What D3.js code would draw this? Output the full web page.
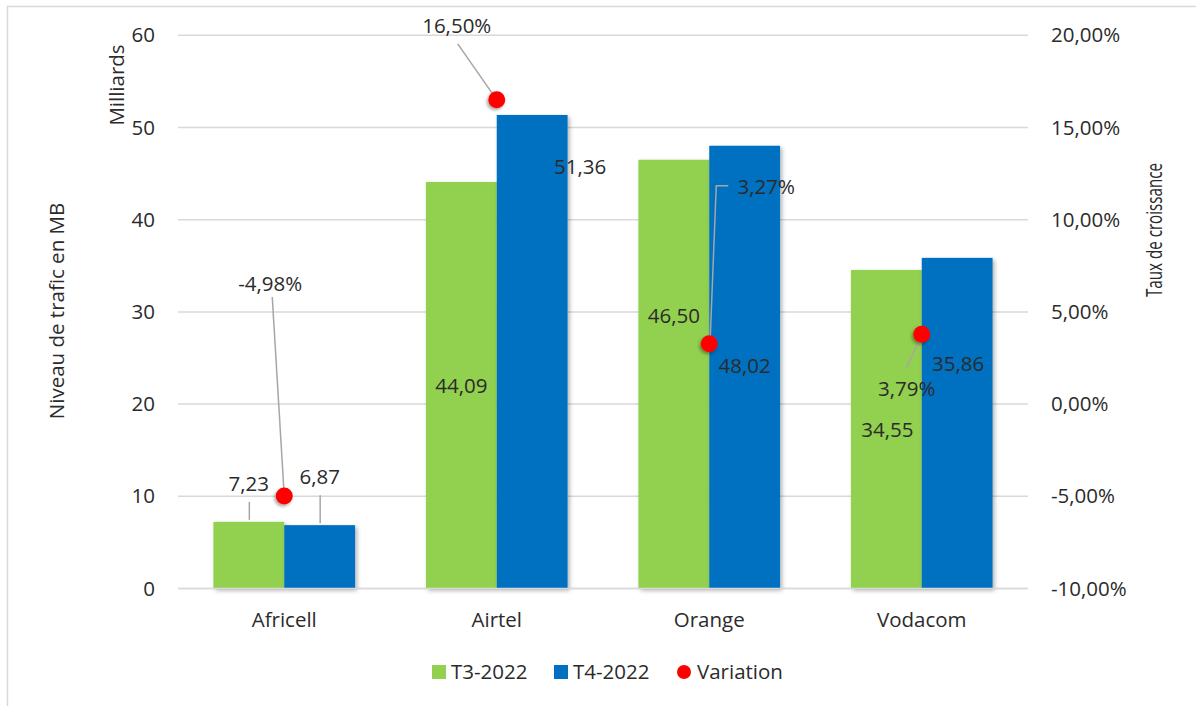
<!DOCTYPE html>
<html>
<head>
<meta charset="utf-8">
<script src="https://cdn.jsdelivr.net/npm/d3@7"></script>
<style>
	body { margin: 0; background: #fff; }
	text { font-family: "Open Sans", sans-serif; fill: #2b2b2b; }
</style>
</head>
<body>
<script>
// data
var operators = ["Africell", "Airtel", "Orange", "Vodacom"];
var seriesNames = ["T3-2022", "T4-2022"];
var t3Values = [7.23, 44.09, 46.50, 34.55];
var t4Values = [6.87, 51.36, 48.02, 35.86];
var variation = [-0.0498, 0.1650, 0.0327, 0.0379];
var leftTicks = [0, 10, 20, 30, 40, 50, 60];
var rightTicks = [-0.10, -0.05, 0, 0.05, 0.10, 0.15, 0.20];

var seriesColors = ["#92D050", "#0070C0"];
var markerColor = "#FF0000";

// label nudges (pixels) relative to bar top / marker, like the hand-moved labels of the original
var barLabelNudge = [
	[[0, -38], [0, -48]],
	[[0, 204], [48, 52]],
	[[0, 156], [0, 220]],
	[[1, 160], [1, 106]]
];
var varLabelNudge = [[-14, -212], [-40, -74], [57, -157], [-15, 55]];

var width = 1196, height = 706;
var plotLeft = 178, plotRight = 1028, plotTop = 35.3, plotBottom = 588.5;
var fontSize = 20.5;

var fr = d3.formatLocale({decimal: ",", thousands: " ", grouping: [3], currency: ["", " €"], minus: "-"});
var fmtVal = fr.format(".2f");
var fmtPct = fr.format(".2%");

var svg = d3.select("body").append("svg")
	.attr("width", width)
	.attr("height", height);

// shadows
var defs = svg.append("defs");
defs.append("filter").attr("id", "barShadow").attr("x", "-10%").attr("y", "-10%").attr("width", "130%").attr("height", "130%")
	.append("feDropShadow").attr("dx", 2).attr("dy", 2).attr("stdDeviation", 2.2)
	.attr("flood-color", "#000").attr("flood-opacity", 0.3);
defs.append("filter").attr("id", "dotShadow").attr("x", "-50%").attr("y", "-50%").attr("width", "200%").attr("height", "200%")
	.append("feDropShadow").attr("dx", -1.5).attr("dy", 2).attr("stdDeviation", 1.5)
	.attr("flood-color", "#000").attr("flood-opacity", 0.35);

// frame
svg.append("path")
	.attr("d", "M7.5," + height + "V6.5H" + width)
	.attr("fill", "none").attr("stroke", "#d9d9d9").attr("stroke-width", 1.5);

//--------------------------------scales---------------------------------
var x = d3.scaleBand().domain(operators).range([plotLeft, plotRight]).paddingInner(1/3).paddingOuter(1/6);
var xSeries = d3.scaleBand().domain(seriesNames).range([0, x.bandwidth()]);
var y = d3.scaleLinear().domain([0, 60]).range([plotBottom, plotTop]);
var y2 = d3.scaleLinear().domain([-0.10, 0.20]).range([plotBottom, plotTop]);

// gridlines
svg.append("g").selectAll("line").data(leftTicks).join("line")
	.attr("x1", plotLeft).attr("x2", plotRight)
	.attr("y1", d => y(d)).attr("y2", d => y(d))
	.attr("stroke", "#d9d9d9").attr("stroke-width", 1.5);

// left axis
var leftAxis = svg.append("g")
	.attr("transform", "translate(" + (plotLeft - 23) + ",0)")
	.call(d3.axisLeft(y).tickValues(leftTicks).tickSize(0).tickPadding(0));
leftAxis.select(".domain").remove();
leftAxis.selectAll("text").attr("font-size", fontSize).attr("font-family", "Open Sans").attr("fill", "#2b2b2b");

// right axis
var rightAxis = svg.append("g")
	.attr("transform", "translate(" + (plotRight + 23) + ",0)")
	.call(d3.axisRight(y2).tickValues(rightTicks).tickFormat(fmtPct).tickSize(0).tickPadding(0));
rightAxis.select(".domain").remove();
rightAxis.selectAll("text").attr("font-size", fontSize).attr("font-family", "Open Sans").attr("fill", "#2b2b2b");

// category axis
var bottomAxis = svg.append("g")
	.attr("transform", "translate(0," + plotBottom + ")")
	.call(d3.axisBottom(x).tickSize(0).tickPadding(0));
bottomAxis.select(".domain").remove();
bottomAxis.selectAll("text").attr("font-size", fontSize).attr("font-family", "Open Sans").attr("fill", "#2b2b2b")
	.attr("dy", null).attr("y", 30).attr("dominant-baseline", "central");

// axis titles
svg.append("text")
	.attr("transform", "translate(57,311) rotate(-90)")
	.attr("text-anchor", "middle").attr("dy", "0.35em").attr("font-size", fontSize)
	.text("Niveau de trafic en MB");
svg.append("text")
	.attr("transform", "translate(117,85) rotate(-90)")
	.attr("text-anchor", "middle").attr("dy", "0.35em").attr("font-size", fontSize)
	.text("Milliards");
svg.append("text")
	.attr("transform", "translate(1154,230) rotate(-90)")
	.attr("text-anchor", "middle").attr("dy", "0.35em").attr("font-size", 22)
	.attr("textLength", 134).attr("lengthAdjust", "spacingAndGlyphs")
	.text("Taux de croissance");

//--------------------------------bars---------------------------------
var barRows = operators.map(function(op, i) {
	return [
		{op: op, i: i, s: 0, series: seriesNames[0], value: t3Values[i]},
		{op: op, i: i, s: 1, series: seriesNames[1], value: t4Values[i]}
	];
});

var groups = svg.append("g").selectAll("g").data(barRows).join("g")
	.attr("transform", d => "translate(" + x(d[0].op) + ",0)");

groups.selectAll("rect").data(d => d).join("rect")
	.attr("x", d => xSeries(d.series))
	.attr("y", d => y(d.value))
	.attr("width", xSeries.bandwidth())
	.attr("height", d => y(0) - y(d.value))
	.attr("fill", d => seriesColors[d.s])
	.attr("filter", "url(#barShadow)");

// axis baseline over the bars' foot
svg.append("line")
	.attr("x1", plotLeft).attr("x2", plotRight)
	.attr("y1", plotBottom).attr("y2", plotBottom)
	.attr("stroke", "#d9d9d9").attr("stroke-width", 1.5);

var barFlat = barRows.flat();
function barCx(d) { return x(d.op) + xSeries(d.series) + xSeries.bandwidth() / 2; }

// leader lines for the small Africell labels
var leaderColor = "#a6a6a6";
barFlat.filter(d => d.i === 0).forEach(function(d) {
	var nudge = barLabelNudge[d.i][d.s];
	svg.append("line")
		.attr("x1", barCx(d) + 0.5).attr("x2", barCx(d) + 0.5)
		.attr("y1", y(d.value) + nudge[1] + 18).attr("y2", y(d.value) - 2)
		.attr("stroke", leaderColor).attr("stroke-width", 1.5);
});

svg.append("g").selectAll("text").data(barFlat).join("text")
	.attr("x", d => barCx(d) + barLabelNudge[d.i][d.s][0])
	.attr("y", d => y(d.value) + barLabelNudge[d.i][d.s][1])
	.attr("text-anchor", "middle").attr("dy", "0.35em").attr("font-size", fontSize)
	.text(d => fmtVal(d.value));

//--------------------------------variation markers---------------------------------
var varRows = operators.map(function(op, i) {
	return {op: op, i: i, value: variation[i], cx: x(op) + x.bandwidth() / 2, cy: y2(variation[i])};
});

// leader lines from label to marker
var leaders = svg.append("g");
varRows.forEach(function(d) {
	var n = varLabelNudge[d.i];
	var lx = d.cx + n[0], ly = d.cy + n[1];
	var pts;
	if (d.i === 0) pts = [[lx + 2, ly + 13], [d.cx, d.cy]];
	else if (d.i === 1) pts = [[lx + 1, ly + 18], [d.cx, d.cy]];
	else if (d.i === 2) pts = [[lx - 38, ly - 1], [lx - 50, ly - 1], [d.cx + 1, d.cy - 6]];
	else pts = [[lx, ly - 22], [d.cx, d.cy]];
	leaders.append("path")
		.attr("d", d3.line()(pts))
		.attr("fill", "none").attr("stroke", leaderColor).attr("stroke-width", 1.5);
});

svg.append("g").selectAll("circle").data(varRows).join("circle")
	.attr("cx", d => d.cx).attr("cy", d => d.cy).attr("r", 8.5)
	.attr("fill", markerColor)
	.attr("filter", "url(#dotShadow)");

svg.append("g").selectAll("text").data(varRows).join("text")
	.attr("x", d => d.cx + varLabelNudge[d.i][0])
	.attr("y", d => d.cy + varLabelNudge[d.i][1])
	.attr("text-anchor", "middle").attr("dy", "0.35em").attr("font-size", fontSize)
	.text(d => fmtPct(d.value));

//--------------------------------legend---------------------------------
var legendItems = [
	{label: seriesNames[0], color: seriesColors[0], shape: "rect", x: 432},
	{label: seriesNames[1], color: seriesColors[1], shape: "rect", x: 554},
	{label: "Variation", color: markerColor, shape: "circle", x: 677}
];
var legendY = 672;
var legend = svg.append("g").selectAll("g").data(legendItems).join("g")
	.attr("transform", d => "translate(" + d.x + "," + legendY + ")");
legend.filter(d => d.shape === "rect").append("rect")
	.attr("x", 0).attr("y", -7).attr("width", 14).attr("height", 14)
	.attr("fill", d => d.color);
legend.filter(d => d.shape === "circle").append("circle")
	.attr("cx", 7).attr("cy", 0).attr("r", 7)
	.attr("fill", d => d.color);
legend.append("text")
	.attr("x", d => d.shape === "rect" ? 19 : 20)
	.attr("y", 0).attr("dy", "0.35em").attr("font-size", fontSize)
	.text(d => d.label);
</script>
</body>
</html>
